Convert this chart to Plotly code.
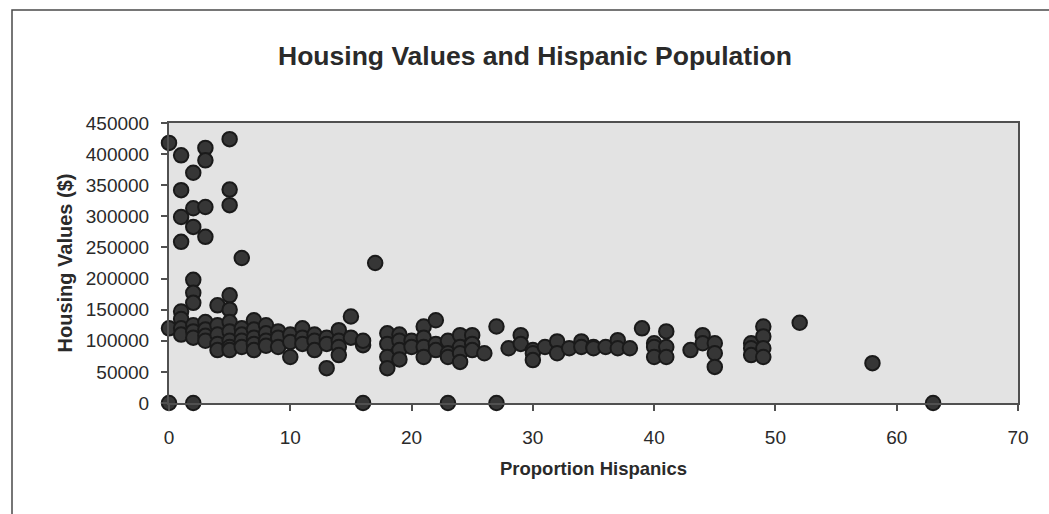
import plotly.graph_objects as go

# Proportion of Hispanic residents (%) and median housing value ($) per area
proportion_hispanics = [
    0, 0, 0,
    1, 1, 1, 1, 1, 1, 1, 1,
    2, 2, 2, 2, 2, 2, 2, 2, 2, 2,
    3, 3, 3, 3, 3, 3, 3, 3,
    4, 4, 4, 4, 4,
    5, 5, 5, 5, 5, 5, 5, 5, 5, 5,
    6, 6, 6, 6, 6,
    7, 7, 7, 7, 7,
    8, 8, 8, 8,
    9, 9, 9,
    10, 10, 10,
    11, 11, 11,
    12, 12, 12,
    13, 13, 13,
    14, 14, 14, 14,
    15, 15,
    16, 16, 16,
    17,
    18, 18, 18, 18,
    19, 19, 19, 19,
    20, 20,
    21, 21, 21, 21,
    22, 22, 22,
    23, 23, 23, 23,
    24, 24, 24, 24,
    25, 25, 25,
    26,
    27, 27,
    28,
    29, 29,
    30, 30, 30,
    31,
    32, 32,
    33,
    34, 34,
    35, 35,
    36,
    37, 37,
    38,
    39,
    40, 40, 40,
    41, 41, 41,
    43,
    44, 44,
    45, 45, 45,
    48, 48, 48,
    49, 49, 49, 49,
    52,
    58,
    63,
]

housing_values = [
    418000, 120000, 0,
    398000, 342000, 299000, 259000, 147000, 135000, 120000, 110000,
    370000, 313000, 283000, 198000, 177000, 161000, 125000, 115000, 105000, 0,
    410000, 390000, 315000, 267000, 130000, 118000, 108000, 100000,
    157000, 125000, 110000, 95000, 85000,
    424000, 343000, 318000, 173000, 150000, 130000, 115000, 100000, 90000, 85000,
    233000, 120000, 110000, 100000, 90000,
    133000, 118000, 105000, 95000, 85000,
    125000, 112000, 100000, 92000,
    115000, 105000, 90000,
    110000, 98000, 74000,
    120000, 105000, 95000,
    110000, 100000, 85000,
    105000, 95000, 56000,
    117000, 100000, 90000, 77000,
    139000, 105000,
    93000, 100000, 0,
    225000,
    112000, 95000, 74000, 56000,
    110000, 100000, 85000, 70000,
    100000, 90000,
    123000, 105000, 90000, 74000,
    133000, 95000, 85000,
    100000, 80000, 74000, 0,
    109000, 90000, 80000, 66000,
    109000, 95000, 85000,
    80000,
    123000, 0,
    88000,
    109000, 95000,
    85000, 80000, 69000,
    90000,
    99000, 80000,
    88000,
    99000, 90000,
    90000, 88000,
    90000,
    101000, 88000,
    88000,
    120000,
    96000, 90000, 74000,
    115000, 90000, 74000,
    85000,
    109000, 96000,
    96000, 80000, 58000,
    96000, 88000, 77000,
    123000, 107000, 88000, 74000,
    129000,
    64000,
    0,
]

chart_title = "Housing Values and Hispanic Population"
x_title = "Proportion Hispanics"
y_title = "Housing Values ($)"
x_ticks = [0, 10, 20, 30, 40, 50, 60, 70]
y_ticks = [0, 50000, 100000, 150000, 200000, 250000, 300000, 350000, 400000, 450000]

FONT = "Liberation Sans, Arial, sans-serif"
AXIS_COLOR = "#505050"
TEXT_COLOR = "#2a2a2a"

fig = go.Figure(
    go.Scatter(
        x=proportion_hispanics,
        y=housing_values,
        mode="markers",
        cliponaxis=False,
        marker=dict(size=14.5, color="#363636", line=dict(color="#1a1a1a", width=2)),
        hoverinfo="x+y",
    )
)

# outer chart frame
fig.add_shape(
    type="rect", xref="paper", yref="paper",
    x0=(12 - 169) / 849, x1=(1060 - 169) / 849,
    y0=(403 - 530) / 280, y1=(403 - 10) / 280,
    line=dict(color="#4a4a4a", width=1.5), fillcolor="rgba(0,0,0,0)", layer="below",
)

fig.update_layout(
    width=1049, height=514,
    margin=dict(l=169, r=31, t=123, b=111),
    paper_bgcolor="white",
    plot_bgcolor="#e3e3e3",
    showlegend=False,
    font=dict(family=FONT, color=TEXT_COLOR),
    title=dict(
        text="<b>" + chart_title + "</b>",
        x=535 / 1049, xanchor="center",
        y=1 - 56 / 514, yanchor="middle",
        font=dict(size=26.5, family=FONT, color=TEXT_COLOR),
    ),
)

fig.update_xaxes(
    range=[0, 70], tickvals=x_ticks, ticktext=[str(v) for v in x_ticks],
    showgrid=False, zeroline=False,
    showline=True, linecolor=AXIS_COLOR, linewidth=2, mirror=True,
    ticks="outside", ticklen=6, tickwidth=1.5, tickcolor=AXIS_COLOR,
    ticklabelstandoff=10,
    tickfont=dict(size=19, family=FONT, color=TEXT_COLOR),
    title=dict(text="<b>" + x_title + "</b>", font=dict(size=18.5, family=FONT, color=TEXT_COLOR), standoff=15),
)
fig.update_yaxes(
    range=[0, 450000], tickvals=y_ticks, ticktext=[str(v) for v in y_ticks],
    showgrid=False, zeroline=False,
    showline=True, linecolor=AXIS_COLOR, linewidth=2, mirror=True,
    ticks="outside", ticklen=6, tickwidth=1.5, tickcolor=AXIS_COLOR,
    ticklabelstandoff=8,
    tickfont=dict(size=19, family=FONT, color=TEXT_COLOR),
    title=dict(text="<b>" + y_title + "</b>", font=dict(size=20, family=FONT, color=TEXT_COLOR), standoff=8),
)

fig.write_html("out.html")
